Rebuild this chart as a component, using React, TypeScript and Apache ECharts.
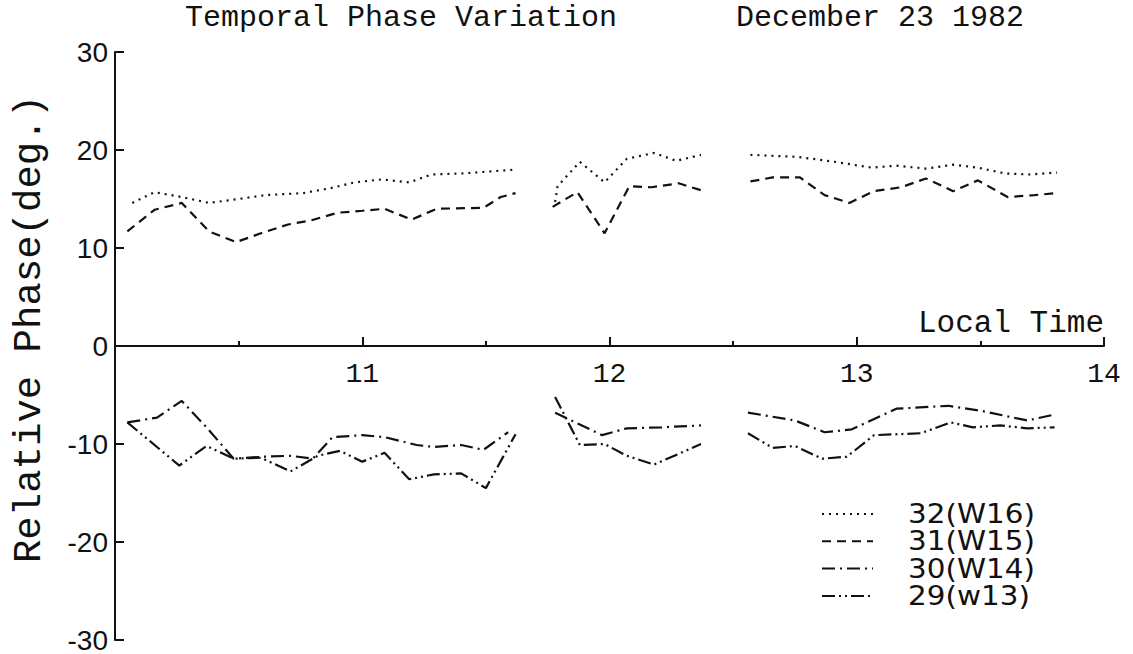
import React, { useEffect, useRef } from "react";
import * as echarts from "echarts";

// Channel names shown in the legend
const seriesNames = ["32(W16)", "31(W15)", "30(W14)", "29(w13)"];

// Local time (hours) and relative phase (deg.); null marks a gap between runs
const w16Time = [10.07, 10.16, 10.27, 10.38, 10.5, 10.61, 10.76, 10.87, 10.97, 11.08, 11.19, 11.28, 11.4, 11.51, 11.62, 11.7, 11.78, 11.79, 11.88, 11.98, 12.07, 12.18, 12.27, 12.37, 12.47, 12.57, 12.76, 12.91, 13.06, 13.16, 13.28, 13.39, 13.49, 13.6, 13.7, 13.81];
const w16Phase = [14.6, 15.7, 15.2, 14.6, 15.0, 15.4, 15.6, 16.1, 16.7, 17.0, 16.7, 17.5, 17.6, 17.8, 18.0, null, 14.7, 16.3, 18.8, 16.7, 19.1, 19.7, 18.9, 19.5, null, 19.5, 19.3, 18.8, 18.2, 18.4, 18.1, 18.5, 18.2, 17.6, 17.5, 17.7];

const w15Time = [10.05, 10.16, 10.27, 10.38, 10.49, 10.59, 10.7, 10.79, 10.9, 11.0, 11.09, 11.2, 11.3, 11.49, 11.56, 11.62, 11.7, 11.77, 11.87, 11.98, 12.08, 12.17, 12.28, 12.37, 12.47, 12.57, 12.66, 12.77, 12.87, 12.97, 13.07, 13.18, 13.28, 13.39, 13.49, 13.61, 13.72, 13.81];
const w15Phase = [11.7, 13.9, 14.6, 11.7, 10.6, 11.5, 12.4, 12.8, 13.6, 13.8, 14.0, 12.9, 14.0, 14.1, 15.2, 15.6, null, 14.2, 15.7, 11.5, 16.3, 16.2, 16.6, 15.9, null, 16.8, 17.2, 17.2, 15.4, 14.6, 15.8, 16.2, 17.1, 15.8, 16.9, 15.2, 15.4, 15.6];

const w14Time = [10.05, 10.17, 10.27, 10.37, 10.48, 10.6, 10.71, 10.8, 10.88, 11.0, 11.09, 11.22, 11.29, 11.4, 11.49, 11.59, 11.7, 11.78, 11.97, 12.07, 12.21, 12.37, 12.47, 12.56, 12.75, 12.87, 12.98, 13.16, 13.37, 13.5, 13.69, 13.8];
const w14Phase = [-7.8, -7.3, -5.6, -8.3, -11.5, -11.3, -11.2, -11.5, -9.3, -9.1, -9.3, -10.1, -10.3, -10.1, -10.6, -8.8, null, -6.8, -9.1, -8.4, -8.3, -8.1, null, -6.8, -7.6, -8.8, -8.5, -6.4, -6.1, -6.6, -7.6, -7.0];

const w13Time = [10.05, 10.26, 10.37, 10.48, 10.59, 10.71, 10.82, 10.91, 11.0, 11.09, 11.19, 11.29, 11.4, 11.5, 11.62, 11.7, 11.78, 11.88, 11.98, 12.07, 12.18, 12.28, 12.37, 12.47, 12.56, 12.66, 12.75, 12.86, 12.96, 13.07, 13.26, 13.38, 13.47, 13.58, 13.69, 13.8];
const w13Phase = [-7.8, -12.2, -10.2, -11.5, -11.4, -12.8, -11.2, -10.7, -11.8, -10.9, -13.6, -13.1, -13.0, -14.5, -9.0, null, -5.2, -10.1, -10.0, -11.2, -12.1, -11.0, -10.0, null, -8.9, -10.4, -10.2, -11.5, -11.3, -9.1, -8.9, -7.8, -8.3, -8.1, -8.4, -8.3];

const seriesTimes = [w16Time, w15Time, w14Time, w13Time];
const seriesPhases = [w16Phase, w15Phase, w14Phase, w13Phase];

// Dash patterns: dotted, dashed, dash-dot, dash-dot-dot
const dashPatterns = [
  [2, 5],
  [9, 6],
  [13, 5, 2, 5],
  [13, 4, 2, 4, 2, 4],
];

const INK = "#111";
const MONO = "'Liberation Mono', 'DejaVu Sans Mono', monospace";
const SANS = "'DejaVu Sans', 'Liberation Sans', sans-serif";
const LABEL_SANS = "'Liberation Sans', 'DejaVu Sans', sans-serif";

// Plot frame
const GRID_TOP = 52;
const GRID_BOTTOM = 14;
const CHART_H = 654;

export default function App() {
  const ref = useRef<HTMLDivElement>(null);

  useEffect(() => {
    if (!ref.current) return;
    const chart = echarts.init(ref.current, undefined, { renderer: "svg" });

    const legendGraphics: any[] = [];
    seriesNames.forEach((name, i) => {
      const y = 514 + i * 27.3;
      legendGraphics.push({
        type: "line",
        shape: { x1: 822, y1: y, x2: 873, y2: y },
        style: { stroke: INK, lineWidth: 2, lineDash: dashPatterns[i] },
      });
      legendGraphics.push({
        type: "text",
        x: 908,
        y,
        scaleX: 1.09,
        style: {
          text: name,
          fill: INK,
          font: `27px ${SANS}`,
          verticalAlign: "middle",
        },
      });
    });

    // distance from the plot's lower edge up to the zero line
    const plotH = CHART_H - GRID_TOP - GRID_BOTTOM;
    const zeroOffset = plotH / 2;

    const baseX = {
      type: "value",
      min: 10,
      max: 14,
      interval: 1,
      splitLine: { show: false },
    };

    const titleStyle = {
      fontFamily: MONO,
      fontSize: 30,
      lineHeight: 30,
      fontWeight: "normal",
      color: INK,
    };

    chart.setOption({
      animation: false,
      backgroundColor: "#fff",
      title: [
        { text: "Temporal Phase Variation", left: 185, top: 3, padding: 0, textStyle: titleStyle },
        { text: "December 23 1982", left: 736, top: 3, padding: 0, textStyle: titleStyle },
      ],
      grid: { left: 115, right: 29, top: GRID_TOP, bottom: GRID_BOTTOM, outerBoundsMode: "none", containLabel: false },
      xAxis: [
        {
          ...baseX,
          name: "Local Time",
          nameLocation: "end",
          nameGap: 0,
          nameTextStyle: {
            fontFamily: MONO,
            fontSize: 31,
            color: INK,
            align: "right",
            verticalAlign: "bottom",
            padding: [0, 0, 7, 0],
          },
          axisLine: { onZero: true, lineStyle: { color: INK, width: 2 } },
          axisTick: { inside: true, length: 9, lineStyle: { color: INK, width: 2 } },
          minorTick: { show: true, splitNumber: 2, length: 5, lineStyle: { color: INK, width: 2 } },
          axisLabel: { show: false },
        },
        {
          // hour labels hung just below the zero line
          ...baseX,
          position: "bottom",
          offset: -zeroOffset,
          axisLine: { show: false, onZero: false },
          axisTick: { show: false },
          axisLabel: {
            margin: 14,
            fontFamily: MONO,
            fontSize: 28,
            color: INK,
            formatter: (v: number) => (v === 10 ? "" : String(v)),
          },
        },
      ],
      yAxis: {
        type: "value",
        min: -30,
        max: 30,
        interval: 10,
        name: "Relative Phase(deg.)",
        nameLocation: "middle",
        nameGap: 66,
        nameRotate: 90,
        nameTextStyle: { fontFamily: MONO, fontSize: 39, color: INK, padding: [0, 0, 0, 34] },
        axisLine: { onZero: false, lineStyle: { color: INK, width: 2 } },
        axisTick: { inside: true, length: 9, lineStyle: { color: INK, width: 2 } },
        axisLabel: { margin: 7, fontFamily: LABEL_SANS, fontSize: 28, color: INK },
        splitLine: { show: false },
      },
      series: seriesNames.map((name, i) => ({
        name,
        type: "line",
        xAxisIndex: 0,
        showSymbol: false,
        symbol: "none",
        connectNulls: false,
        lineStyle: { color: INK, width: 2.2, type: dashPatterns[i] },
        data: seriesTimes[i].map((t, j) => [t, seriesPhases[i][j]]),
      })),
      graphic: legendGraphics,
    });

    return () => chart.dispose();
  }, []);

  return (
    <div
      ref={ref}
      style={{ position: "fixed", left: 0, top: 0, width: 1133, height: CHART_H, background: "#fff" }}
    />
  );
}
